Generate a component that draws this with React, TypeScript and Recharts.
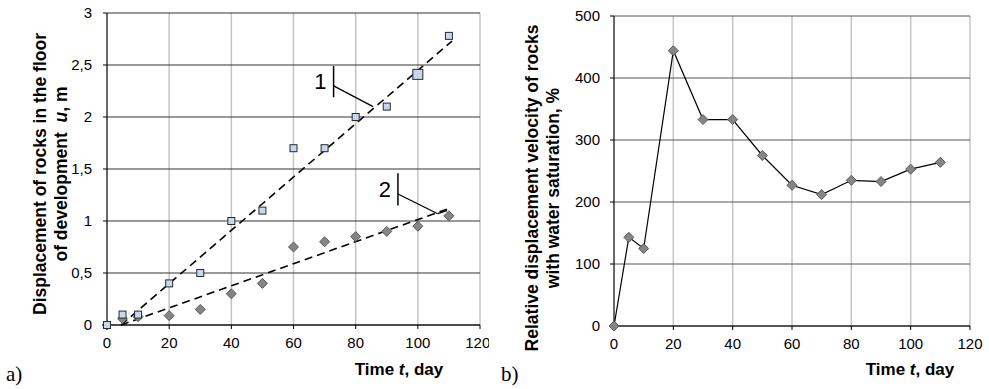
import { ComposedChart, LineChart, Line, Scatter, XAxis, YAxis, CartesianGrid, ReferenceLine } from 'recharts';

const days = [0, 5, 10, 20, 30, 40, 50, 60, 70, 80, 90, 100, 110];
const displacement1 = [0, 0.1, 0.1, 0.4, 0.5, 1.0, 1.1, 1.7, 1.7, 2.0, 2.1, 2.41, 2.78];
const displacement2 = [0, 0.06, 0.08, 0.09, 0.15, 0.3, 0.4, 0.75, 0.8, 0.85, 0.9, 0.95, 1.05];
const velocity = [0, 143, 125, 444, 333, 333, 275, 227, 212, 235, 233, 253, 264];

const dayTicks = [0, 20, 40, 60, 80, 100, 120];
const uTicks = [0, 0.5, 1, 1.5, 2, 2.5, 3];
const velTicks = [0, 100, 200, 300, 400, 500];

// dashed trend lines, start and end points
const trend1 = [{ x: 4.5, y: 0 }, { x: 111, y: 2.73 }];
const trend2 = [{ x: 4.5, y: 0 }, { x: 110, y: 1.12 }];

// curve labels: bar and leader line
const mark1Bar = [{ x: 72.9, y: 2.49 }, { x: 72.9, y: 2.19 }];
const mark1Leader = [{ x: 72.9, y: 2.3 }, { x: 85.6, y: 2.1 }];
const mark2Bar = [{ x: 93.6, y: 1.46 }, { x: 93.6, y: 1.15 }];
const mark2Leader = [{ x: 93.6, y: 1.26 }, { x: 106.4, y: 1.07 }];
const mark2Hook = [{ x: 106.4, y: 1.07 }, { x: 109.4, y: 1.1 }];

const series1 = days.map((d, i) => ({ day: d, u: displacement1[i] }));
const series2 = days.map((d, i) => ({ day: d, u: displacement2[i] }));
const velData = days.map((d, i) => ({ day: d, v: velocity[i] }));

const tickStyle = { fontSize: 15, fontFamily: 'Liberation Sans, Arial, sans-serif', fill: '#000' };
const comma = (v: number) => String(v).replace('.', ',');

const Square = (p: any) => {
  const s = p.payload && p.payload.day === 100 ? 10 : 7;
  return <rect x={p.cx - s / 2} y={p.cy - s / 2} width={s} height={s} fill="#c9d6ee" stroke="#2b2b2b" strokeWidth={1} />;
};

const Diamond = (p: any) => {
  const h = 5;
  return (
    <polygon
      points={`${p.cx},${p.cy - h} ${p.cx + h},${p.cy} ${p.cx},${p.cy + h} ${p.cx - h},${p.cy}`}
      fill="#858585"
      stroke="#5a5a5a"
      strokeWidth={1}
    />
  );
};

const titleStyle: React.CSSProperties = {
  position: 'absolute',
  fontFamily: 'Liberation Sans, Arial, sans-serif',
  fontWeight: 'bold',
  fontSize: 17,
  color: '#000',
  whiteSpace: 'nowrap',
  textAlign: 'center',
};

const yTitle = (cx: number, cy: number): React.CSSProperties => ({
  ...titleStyle,
  fontSize: 17.5,
  width: 380,
  height: 42,
  lineHeight: '21px',
  left: cx - 190,
  top: cy - 21,
  transform: 'rotate(-90deg)',
});

const tagStyle = (left: number): React.CSSProperties => ({
  position: 'absolute',
  left,
  top: 362,
  fontFamily: 'Liberation Serif, Times New Roman, serif',
  fontSize: 21,
  color: '#000',
});

export default function App() {
  return (
    <div style={{ position: 'absolute', left: 0, top: 0, width: 989, height: 389, background: '#fff' }}>
      <div style={{ position: 'absolute', left: 0, top: 0 }}>
        <ComposedChart width={489} height={389} margin={{ top: 13, right: 9, bottom: 34, left: 0 }}>
          <CartesianGrid horizontal={false} stroke="#c4c4c4" strokeWidth={1.5} />
          <CartesianGrid vertical={false} stroke="#333" />
          <XAxis
            type="number"
            dataKey="day"
            domain={[0, 120]}
            ticks={dayTicks}
            height={30}
            tick={tickStyle}
            tickSize={4}
            tickMargin={8}
            stroke="#000"
          />
          <YAxis
            type="number"
            dataKey="u"
            domain={[0, 3]}
            ticks={uTicks}
            width={107}
            tick={tickStyle}
            tickSize={4}
            tickMargin={11}
            tickFormatter={comma}
            stroke="#000"
          />
          <ReferenceLine segment={trend1} stroke="#000" strokeWidth={1.6} strokeDasharray="8 5" />
          <ReferenceLine segment={trend2} stroke="#000" strokeWidth={1.6} strokeDasharray="8 5" />
          <ReferenceLine
            segment={mark1Bar}
            stroke="#000"
            strokeWidth={1.5}
            label={{ value: '1', position: 'left', offset: 7, fontSize: 22, fill: '#000', fontFamily: 'Liberation Sans, Arial, sans-serif' }}
          />
          <ReferenceLine segment={mark1Leader} stroke="#000" strokeWidth={1.3} />
          <ReferenceLine
            segment={mark2Bar}
            stroke="#000"
            strokeWidth={1.5}
            label={{ value: '2', position: 'left', offset: 7, fontSize: 22, fill: '#000', fontFamily: 'Liberation Sans, Arial, sans-serif' }}
          />
          <ReferenceLine segment={mark2Leader} stroke="#000" strokeWidth={1.3} />
          <ReferenceLine segment={mark2Hook} stroke="#000" strokeWidth={1.3} />
          <Scatter data={series2} shape={Diamond} isAnimationActive={false} />
          <Scatter data={series1} shape={Square} isAnimationActive={false} />
        </ComposedChart>
      </div>

      <div style={{ position: 'absolute', left: 490, top: 0 }}>
        <LineChart width={499} height={389} data={velData} margin={{ top: 16, right: 19, bottom: 33, left: 0 }}>
          <CartesianGrid horizontal={false} stroke="#c4c4c4" strokeWidth={1.5} />
          <CartesianGrid vertical={false} stroke="#555" />
          <XAxis
            type="number"
            dataKey="day"
            domain={[0, 120]}
            ticks={dayTicks}
            height={30}
            tick={tickStyle}
            tickSize={4}
            tickMargin={8}
            stroke="#000"
          />
          <YAxis
            type="number"
            domain={[0, 500]}
            ticks={velTicks}
            width={124}
            tick={tickStyle}
            tickSize={4}
            tickMargin={10}
            stroke="#000"
          />
          <Line
            type="linear"
            dataKey="v"
            stroke="#000"
            strokeWidth={1.2}
            dot={(p: any) => <Diamond key={p.index} cx={p.cx} cy={p.cy} />}
            activeDot={false}
            isAnimationActive={false}
          />
        </LineChart>
      </div>

      <div style={yTitle(51, 174)}>
        Displacement of rocks in the floor
        <br />
        of development&nbsp; <i>u</i>, m
      </div>
      <div style={yTitle(543, 188)}>
        Relative displacement velocity of rocks
        <br />
        with water saturation, %
      </div>

      <div style={{ ...titleStyle, left: 339, top: 360, width: 120 }}>
        Time <i>t</i>, day
      </div>
      <div style={{ ...titleStyle, left: 850, top: 360, width: 120 }}>
        Time <i>t</i>, day
      </div>

      <div style={tagStyle(6)}>a)</div>
      <div style={tagStyle(501)}>b)</div>
    </div>
  );
}
